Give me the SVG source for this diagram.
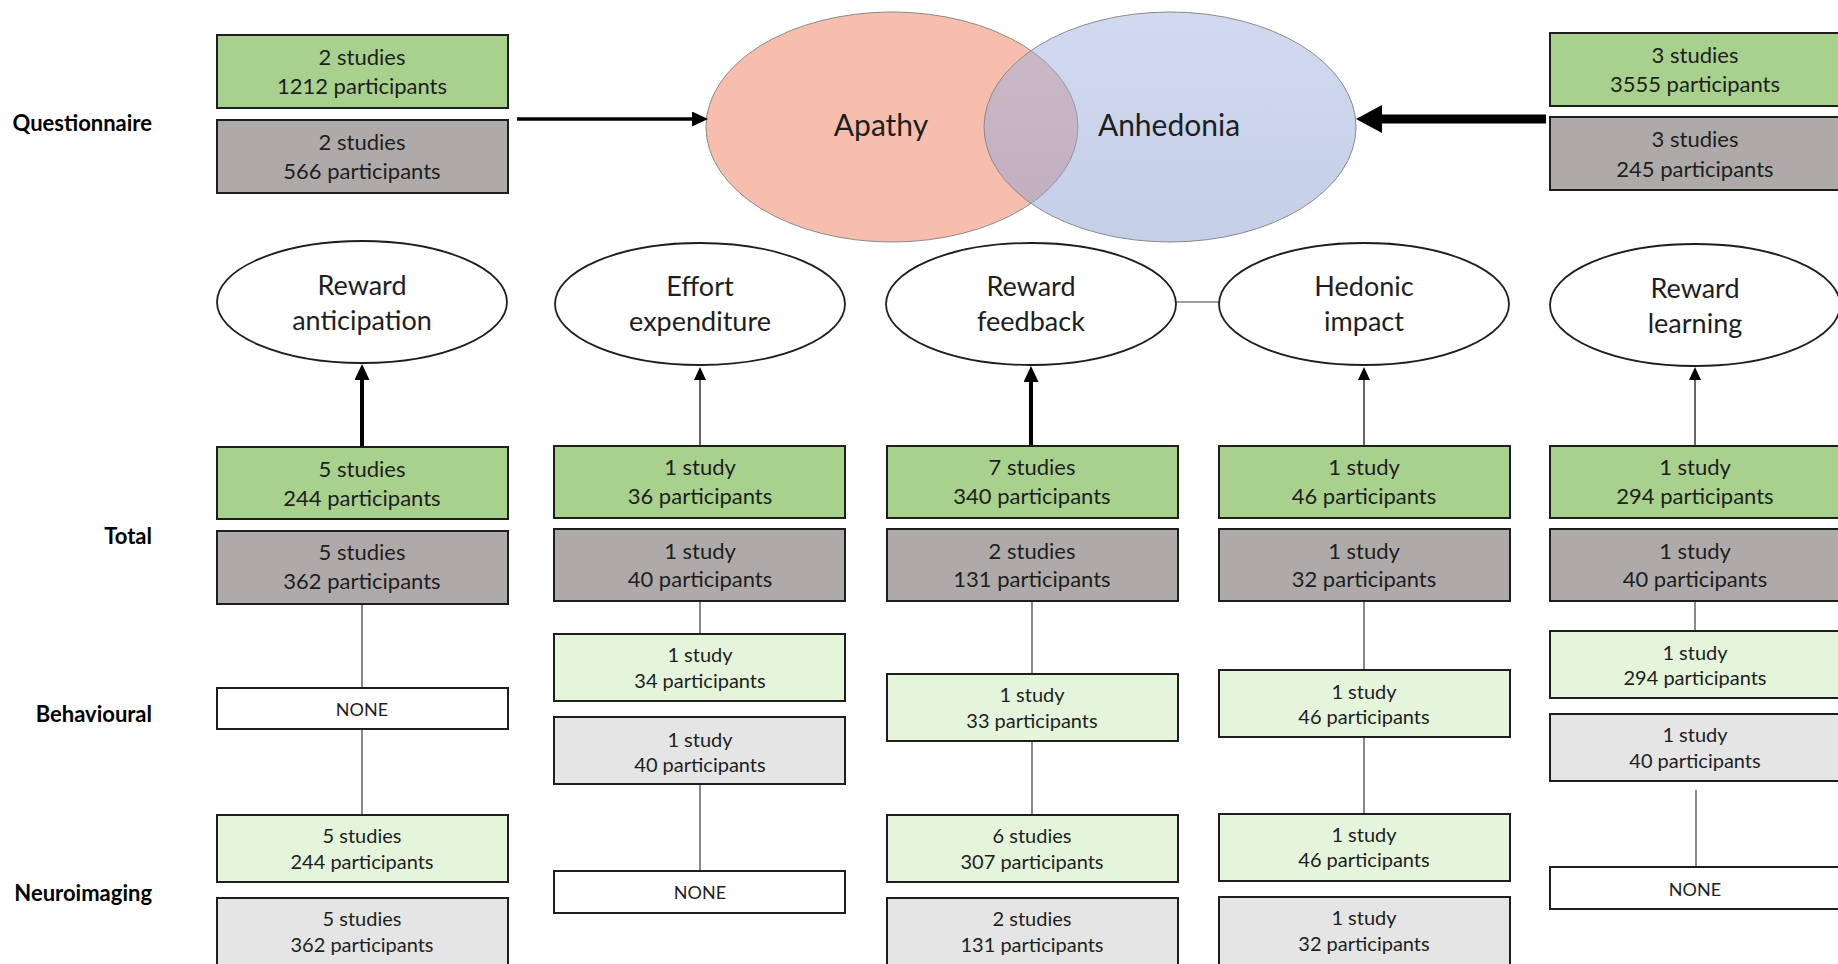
<svg xmlns="http://www.w3.org/2000/svg" width="1838" height="964" viewBox="0 0 1838 964">
<style>
.bx{stroke:#1e1e1e;stroke-width:2}
.g{fill:#A9D18E}
.d{fill:#AEAAAA}
.lg{fill:#E4F5DC}
.lgr{fill:#E5E5E5}
.w{fill:#FFFFFF}
.el{fill:#FFFFFF;stroke:#1e1e1e;stroke-width:1.8}
.t{font-family:Lato,"Liberation Sans",sans-serif;fill:#1e1e1e;text-anchor:middle;font-size:22px}
.ts{font-size:20px}
.tn{font-size:18px}
.te{font-size:27px}
.tv{font-size:30px}
.lab{font-family:Lato,"Liberation Sans",sans-serif;font-weight:bold;font-size:22px;fill:#000;text-anchor:end}
.c{stroke:#3a3a3a;stroke-width:1.2;fill:none}
.a{stroke:#000;fill:none}
</style>
<defs>
<marker id="hs" markerUnits="userSpaceOnUse" markerWidth="13" markerHeight="12" refX="0" refY="6" orient="auto"><path d="M0,0 L13,6 L0,12 z" fill="#000"/></marker>
<marker id="hm" markerUnits="userSpaceOnUse" markerWidth="16" markerHeight="15" refX="0" refY="7.5" orient="auto"><path d="M0,0 L16,7.5 L0,15 z" fill="#000"/></marker>
<marker id="hb" markerUnits="userSpaceOnUse" markerWidth="26" markerHeight="28" refX="0" refY="14" orient="auto"><path d="M0,0 L26,14 L0,28 z" fill="#000"/></marker>
<linearGradient id="anh" x1="0" y1="0" x2="0" y2="1"><stop offset="0" stop-color="#A2B4DE"/><stop offset="1" stop-color="#8A9FD2"/></linearGradient>
</defs>

<g id="labels">
<text class="lab" x="152" y="131">Questionnaire</text>
<text class="lab" x="152" y="544">Total</text>
<text class="lab" x="152" y="722">Behavioural</text>
<text class="lab" x="152" y="901">Neuroimaging</text>
</g>

<g id="venn">
<ellipse cx="892" cy="127" rx="186" ry="115" fill="#F7BEAE" stroke="#8a8a8a" stroke-width="1"/>
<ellipse cx="1170" cy="127" rx="186" ry="115" fill="url(#anh)" fill-opacity="0.5" stroke="#8a8a8a" stroke-width="1"/>
<text class="t tv" x="881" y="136">Apathy</text>
<text class="t tv" x="1169" y="136">Anhedonia</text>
</g>

<g id="connectors">
<line class="a" x1="517" y1="119" x2="692" y2="119" stroke-width="3.5" marker-end="url(#hm)"/>
<line class="a" x1="1546" y1="119" x2="1382" y2="119" stroke-width="9" marker-end="url(#hb)"/>
<line class="a" x1="362" y1="447" x2="362" y2="380" stroke-width="4" marker-end="url(#hm)"/>
<line class="a" x1="1031" y1="446" x2="1031" y2="382" stroke-width="4" marker-end="url(#hm)"/>
<line class="a" x1="700" y1="446" x2="700" y2="380" stroke-width="1.2" marker-end="url(#hs)"/>
<line class="a" x1="1364" y1="446" x2="1364" y2="380" stroke-width="1.2" marker-end="url(#hs)"/>
<line class="a" x1="1695" y1="446" x2="1695" y2="380" stroke-width="1.2" marker-end="url(#hs)"/>
<line class="c" x1="1176" y1="302" x2="1219" y2="302"/>
<line class="c" x1="362" y1="604" x2="362" y2="688"/>
<line class="c" x1="362" y1="729" x2="362" y2="815"/>
<line class="c" x1="700" y1="601" x2="700" y2="634"/>
<line class="c" x1="700" y1="784" x2="700" y2="871"/>
<line class="c" x1="1032" y1="601" x2="1032" y2="674"/>
<line class="c" x1="1032" y1="741" x2="1032" y2="815"/>
<line class="c" x1="1364" y1="601" x2="1364" y2="670"/>
<line class="c" x1="1364" y1="737" x2="1364" y2="814"/>
<line class="c" x1="1695" y1="601" x2="1695" y2="631"/>
<line class="c" x1="1696" y1="790" x2="1696" y2="867"/>
</g>

<g id="q-left">
<rect class="bx g" x="217" y="35" width="291" height="73"/>
<text class="t" x="362" y="65">2 studies</text>
<text class="t" x="362" y="94">1212 participants</text>
<rect class="bx d" x="217" y="120" width="291" height="73"/>
<text class="t" x="362" y="150">2 studies</text>
<text class="t" x="362" y="179">566 participants</text>
</g>

<g id="q-right">
<rect class="bx g" x="1550" y="33" width="291" height="73"/>
<text class="t" x="1695" y="63">3 studies</text>
<text class="t" x="1695" y="92">3555 participants</text>
<rect class="bx d" x="1550" y="117" width="291" height="73"/>
<text class="t" x="1695" y="147">3 studies</text>
<text class="t" x="1695" y="177">245 participants</text>
</g>

<g id="reward-anticipation">
<ellipse class="el" cx="362" cy="302" rx="145" ry="61"/>
<text class="t te" x="362" y="295">Reward</text>
<text class="t te" x="362" y="330">anticipation</text>
</g>
<g id="effort-expenditure">
<ellipse class="el" cx="700" cy="304" rx="145" ry="61"/>
<text class="t te" x="700" y="296">Effort</text>
<text class="t te" x="700" y="331">expenditure</text>
</g>
<g id="reward-feedback">
<ellipse class="el" cx="1031" cy="304" rx="145" ry="61"/>
<text class="t te" x="1031" y="296">Reward</text>
<text class="t te" x="1031" y="331">feedback</text>
</g>
<g id="hedonic-impact">
<ellipse class="el" cx="1364" cy="304" rx="145" ry="61"/>
<text class="t te" x="1364" y="296">Hedonic</text>
<text class="t te" x="1364" y="331">impact</text>
</g>
<g id="reward-learning">
<ellipse class="el" cx="1695" cy="305" rx="145" ry="61"/>
<text class="t te" x="1695" y="298">Reward</text>
<text class="t te" x="1695" y="333">learning</text>
</g>

<g id="total-1">
<rect class="bx g" x="217" y="447" width="291" height="72"/>
<text class="t" x="362" y="477">5 studies</text>
<text class="t" x="362" y="506">244 participants</text>
<rect class="bx d" x="217" y="531" width="291" height="73"/>
<text class="t" x="362" y="560">5 studies</text>
<text class="t" x="362" y="589">362 participants</text>
</g>
<g id="total-2">
<rect class="bx g" x="554" y="446" width="291" height="72"/>
<text class="t" x="700" y="475">1 study</text>
<text class="t" x="700" y="504">36 participants</text>
<rect class="bx d" x="554" y="529" width="291" height="72"/>
<text class="t" x="700" y="559">1 study</text>
<text class="t" x="700" y="587">40 participants</text>
</g>
<g id="total-3">
<rect class="bx g" x="887" y="446" width="291" height="72"/>
<text class="t" x="1032" y="475">7 studies</text>
<text class="t" x="1032" y="504">340 participants</text>
<rect class="bx d" x="887" y="529" width="291" height="72"/>
<text class="t" x="1032" y="559">2 studies</text>
<text class="t" x="1032" y="587">131 participants</text>
</g>
<g id="total-4">
<rect class="bx g" x="1219" y="446" width="291" height="72"/>
<text class="t" x="1364" y="475">1 study</text>
<text class="t" x="1364" y="504">46 participants</text>
<rect class="bx d" x="1219" y="529" width="291" height="72"/>
<text class="t" x="1364" y="559">1 study</text>
<text class="t" x="1364" y="587">32 participants</text>
</g>
<g id="total-5">
<rect class="bx g" x="1550" y="446" width="291" height="72"/>
<text class="t" x="1695" y="475">1 study</text>
<text class="t" x="1695" y="504">294 participants</text>
<rect class="bx d" x="1550" y="529" width="291" height="72"/>
<text class="t" x="1695" y="559">1 study</text>
<text class="t" x="1695" y="587">40 participants</text>
</g>

<g id="behav-1">
<rect class="bx w" x="217" y="688" width="291" height="41"/>
<text class="t tn" x="362" y="716">NONE</text>
</g>
<g id="behav-2">
<rect class="bx lg" x="554" y="634" width="291" height="67"/>
<text class="t ts" x="700" y="662">1 study</text>
<text class="t ts" x="700" y="688">34 participants</text>
<rect class="bx lgr" x="554" y="717" width="291" height="67"/>
<text class="t ts" x="700" y="747">1 study</text>
<text class="t ts" x="700" y="772">40 participants</text>
</g>
<g id="behav-3">
<rect class="bx lg" x="887" y="674" width="291" height="67"/>
<text class="t ts" x="1032" y="702">1 study</text>
<text class="t ts" x="1032" y="728">33 participants</text>
</g>
<g id="behav-4">
<rect class="bx lg" x="1219" y="670" width="291" height="67"/>
<text class="t ts" x="1364" y="699">1 study</text>
<text class="t ts" x="1364" y="724">46 participants</text>
</g>
<g id="behav-5">
<rect class="bx lg" x="1550" y="631" width="291" height="67"/>
<text class="t ts" x="1695" y="660">1 study</text>
<text class="t ts" x="1695" y="685">294 participants</text>
<rect class="bx lgr" x="1550" y="714" width="291" height="67"/>
<text class="t ts" x="1695" y="742">1 study</text>
<text class="t ts" x="1695" y="768">40 participants</text>
</g>

<g id="neuro-1">
<rect class="bx lg" x="217" y="815" width="291" height="67"/>
<text class="t ts" x="362" y="843">5 studies</text>
<text class="t ts" x="362" y="869">244 participants</text>
<rect class="bx lgr" x="217" y="898" width="291" height="70"/>
<text class="t ts" x="362" y="926">5 studies</text>
<text class="t ts" x="362" y="952">362 participants</text>
</g>
<g id="neuro-2">
<rect class="bx w" x="554" y="871" width="291" height="42"/>
<text class="t tn" x="700" y="899">NONE</text>
</g>
<g id="neuro-3">
<rect class="bx lg" x="887" y="815" width="291" height="67"/>
<text class="t ts" x="1032" y="843">6 studies</text>
<text class="t ts" x="1032" y="869">307 participants</text>
<rect class="bx lgr" x="887" y="898" width="291" height="70"/>
<text class="t ts" x="1032" y="926">2 studies</text>
<text class="t ts" x="1032" y="952">131 participants</text>
</g>
<g id="neuro-4">
<rect class="bx lg" x="1219" y="814" width="291" height="67"/>
<text class="t ts" x="1364" y="842">1 study</text>
<text class="t ts" x="1364" y="867">46 participants</text>
<rect class="bx lgr" x="1219" y="897" width="291" height="70"/>
<text class="t ts" x="1364" y="925">1 study</text>
<text class="t ts" x="1364" y="951">32 participants</text>
</g>
<g id="neuro-5">
<rect class="bx w" x="1550" y="867" width="291" height="42"/>
<text class="t tn" x="1695" y="896">NONE</text>
</g>
</svg>
